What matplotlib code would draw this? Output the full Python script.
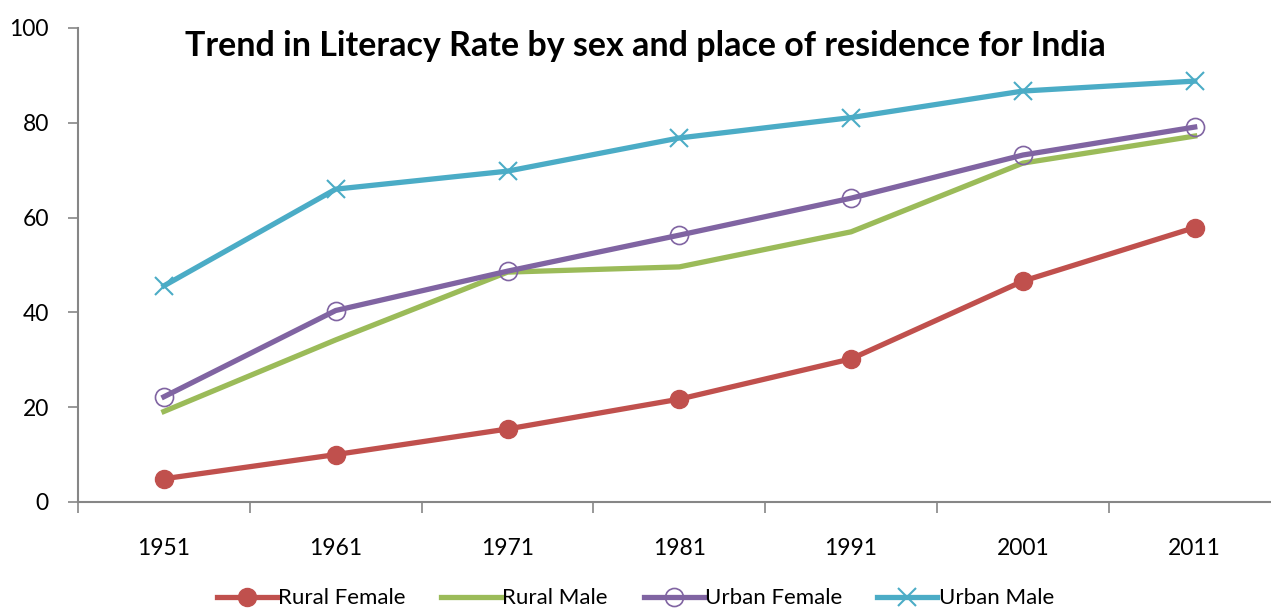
import matplotlib
matplotlib.use("Agg")
import matplotlib.pyplot as plt

plt.rcParams['font.family'] = ['Lato', 'DejaVu Sans']

# Census years and literacy rates (%)
years = ["1951", "1961", "1971", "1981", "1991", "2001", "2011"]
rural_female = [4.9, 10.0, 15.4, 21.7, 30.2, 46.6, 57.9]
rural_male = [19.1, 34.2, 48.5, 49.6, 57.0, 71.5, 77.2]
urban_female = [22.2, 40.4, 48.7, 56.3, 64.1, 73.2, 79.1]
urban_male = [45.6, 66.0, 69.8, 76.8, 81.1, 86.7, 88.8]

x = list(range(1, len(years) + 1))
axis_grey = "#868686"

fig = plt.figure(figsize=(12.71, 6.10), dpi=100)
ax = fig.add_axes([78 / 1271, 108 / 610, 1 - 78 / 1271, 474 / 610])

ax.plot(x, rural_female, color="#C0504D", lw=3.8, marker="o", ms=13,
        label="Rural Female")
ax.plot(x, rural_male, color="#9BBB59", lw=3.8, label="Rural Male")
ax.plot(x, urban_female, color="#8064A2", lw=3.8, marker="o", ms=13,
        mfc="none", mec="#8064A2", mew=1.2, label="Urban Female")
ax.plot(x, urban_male, color="#4BACC6", lw=3.8, marker="x", ms=13,
        mew=1.5, label="Urban Male")

ax.set_xlim(0.5, 0.5 + 1193 / 171.8)
ax.set_ylim(0, 100)
ax.set_yticks(range(0, 101, 20))
ax.set_xticks(x)
ax.set_xticklabels(years)
ax.set_xticks([i + 0.5 for i in range(0, 7)], minor=True)

for side in ["top", "right"]:
    ax.spines[side].set_visible(False)
for side in ["left", "bottom"]:
    ax.spines[side].set_color(axis_grey)
    ax.spines[side].set_linewidth(1.5)

ax.tick_params(axis="y", direction="out", length=7, width=1.2,
               color=axis_grey, labelsize=16.5, pad=14)
ax.tick_params(axis="x", which="major", length=0, labelsize=16.5, pad=26)
ax.tick_params(axis="x", which="minor", direction="out", length=8,
               width=1.2, color=axis_grey)

fig.text(0.508, 0.925, "Trend in Literacy Rate by sex and place of residence for India",
         ha="center", va="center", fontsize=24.5, fontweight="bold")

fig.legend(loc="lower center", bbox_to_anchor=(0.5, -0.03), ncol=4,
           frameon=False, fontsize=16, handlelength=2.7, handletextpad=0.05,
           columnspacing=1.6)

fig.savefig("out.png", dpi=100)
